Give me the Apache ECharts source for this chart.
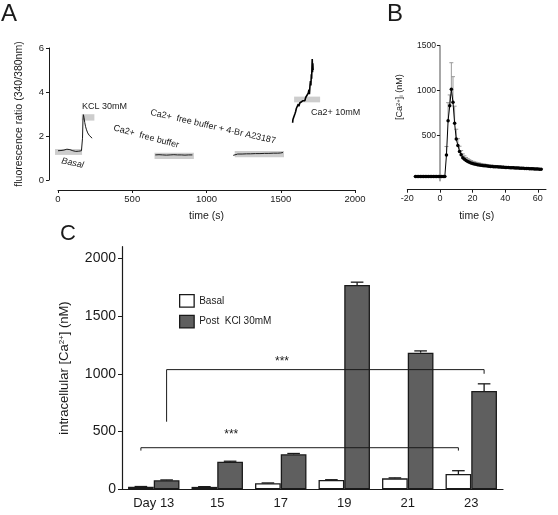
<!DOCTYPE html>
<html><head><meta charset="utf-8">
<script src="https://cdn.jsdelivr.net/npm/echarts@6/dist/echarts.min.js"></script>
<style>html,body{margin:0;padding:0;background:#fff}#c{width:558px;height:515px}</style>
</head><body><div id="c"></div>
<script>
// ---------- Panel A : fluorescence ratio trace ----------
const aXTicks = [0, 500, 1000, 1500, 2000];
const aYTicks = [0, 2, 4, 6];
const kclTime  = [0,10,20,30,40,50,60,70,80,90,100,110,120,130,140,150,158,162,165,168,171,175,180,186,192,200,210,220,230];
const kclRatio = [1.33,1.34,1.34,1.35,1.36,1.38,1.40,1.40,1.38,1.35,1.33,1.31,1.30,1.30,1.31,1.32,1.33,1.36,1.90,2.70,2.97,2.85,2.62,2.42,2.28,2.14,2.03,1.96,1.90];
const freeTime  = [655,680,705,730,755,780,805,830,855,880,905];
const freeRatio = [1.14,1.15,1.14,1.13,1.14,1.15,1.14,1.14,1.13,1.14,1.14];
const brTime  = [1180,1190,1210,1240,1270,1295,1300,1305,1330,1360,1390,1420,1450,1480,1500,1515];
const brRatio = [1.12,1.17,1.18,1.18,1.19,1.19,1.25,1.19,1.20,1.20,1.21,1.21,1.22,1.22,1.23,1.25];
const caTime  = [1580,1582,1588,1595,1600,1605,1612,1618,1622,1628,1635,1640,1648,1655,1662,1668,1675,1680,1685,1690,1693,1697,1700,1703,1706,1708,1710,1712,1714,1716,1718];
const caRatio = [2.60,2.75,2.80,3.00,3.10,3.25,3.30,3.45,3.35,3.50,3.55,3.45,3.60,3.65,3.60,3.75,3.80,3.70,3.95,4.10,3.90,4.30,4.50,4.30,4.80,4.60,5.10,5.50,4.90,5.30,5.00];
// grey condition boxes
const boxStart = [-20, 160, 650, 1190, 1590];
const boxEnd   = [162, 245, 915, 1522, 1765];
const boxLow   = [1.14, 2.70, 0.95, 1.03, 3.53];
const boxHigh  = [1.41, 2.99, 1.24, 1.32, 3.79];
// condition labels
const aLabels     = ['Basal', 'KCL 30mM', 'Ca2+  free buffer', 'Ca2+  free buffer + 4-Br A23187', 'Ca2+ 10mM'];
const aLabelTime  = [98, 162, 594, 1044, 1704];
const aLabelRatio = [0.77, 3.32, 1.97, 2.42, 3.05];
const aLabelAngle = [-12, 0, -15, -13, 0];
const aLabelAlign = ['center', 'left', 'center', 'center', 'left'];
const aLabelItalic = [true, false, false, false, false];

// ---------- Panel B : [Ca2+]i time course ----------
const bXTicks = [-20, 0, 20, 40, 60];
const bYTicks = [500, 1000, 1500];
const bTime = [-15,-14,-13,-12,-11,-10,-9,-8,-7,-6,-5,-4,-3,-2,-1,0,1,2,3,
  4,5,6,7,8,9,
  10,11,12,13,14,15,16,17,18,19,20,
  21,22,23,24,25,26,27,28,29,30,
  31,32,33,34,35,36,37,38,39,40,
  41,42,43,44,45,46,47,48,49,50,
  51,52,53,54,55,56,57,58,59,60,61,62];
const bConc = [47,47,46,47,47,46,47,47,47,46,47,47,47,46,47,47,47,48,48,
  285,667,833,1015,871,638,
  462,392,325,287,256,238,224,213,204,197,191,
  186,182,178,175,172,169,167,165,163,161,
  159,158,156,155,154,152,151,150,149,148,
  147,146,145,144,143,142,141,140,139,138,
  137,136,136,135,134,133,132,131,130,129,128,127];
const bErr = [0,0,0,0,0,0,0,0,0,0,0,0,0,0,0,0,0,0,0,
  95,200,120,296,285,190,
  110,75,58,48,42,38,34,31,29,27,25,
  24,23,22,21,20,19,18,17,16,15,
  15,14,14,13,13,12,12,12,11,11,
  11,10,10,10,10,9,9,9,9,9,
  8,8,8,8,8,8,8,8,8,8,8,8];

// ---------- Panel C : bar chart ----------
const days = ['Day 13', '15', '17', '19', '21', '23'];
const cYTicks = [0, 500, 1000, 1500, 2000];
const basal    = [22, 21, 52, 80, 95, 132];
const basalErr = [2, 2, 3, 3, 4, 29];
const post     = [78, 238, 303, 1768, 1183, 851];
const postErr  = [3, 5, 7, 25, 15, 62];
// significance brackets (category index, bar side -1 basal / +1 post)
const brkLeftCat  = [0, 0];
const brkLeftSide = [1, -1];
const brkRightCat = [5, 5];
const brkRightSide= [1, -1];
const brkLevel    = [1036, 360];
const brkLeftDrop = [585, 335];
const brkRightDrop= [1000, 335];
const starLabel = ['***', '***'];
const starPosX  = [2.52, 1.72];
const starPosY  = [1105, 475];

const FONT = 'Liberation Sans, Arial, Helvetica, sans-serif';
const ink = '#1a1a1a';
const HALF = 0.2025; // bar centre offset within band (barCategoryGap 19%)
const plain = v => String(v);

const chart = echarts.init(document.getElementById('c'), null, {renderer: 'canvas'});

function pairs(xs, ys) { return xs.map((x, i) => [x, ys[i]]); }

const baseText = {color: ink, fontFamily: FONT};

// B grid: x from -20 to 65; the y axis sits at t = 0
const bLeft = 407.3, bWidth = 138.7, bMin = -20, bMax = 65;
const bYAxisShift = -bMin / (bMax - bMin) * bWidth;

const option = {
  animation: false,
  backgroundColor: '#fff',
  textStyle: {fontFamily: FONT, color: ink},
  title: [
    {text: 'A', left: 1, top: 2, padding: 0, textStyle: {fontSize: 24, fontWeight: 'normal', color: ink, fontFamily: FONT}},
    {text: 'B', left: 387, top: 2, padding: 0, textStyle: {fontSize: 24, fontWeight: 'normal', color: ink, fontFamily: FONT}},
    {text: 'C', left: 60, top: 223, padding: 0, textStyle: {fontSize: 22, fontWeight: 'normal', color: ink, fontFamily: FONT}}
  ],
  legend: {
    orient: 'vertical', left: 179, top: 294, padding: 0, itemWidth: 14.5, itemHeight: 12.5, itemGap: 7, icon: 'rect',
    textStyle: {fontSize: 10, color: ink, fontFamily: FONT},
    data: [
      {name: 'Basal', itemStyle: {color: '#fff', borderColor: ink, borderWidth: 1.3}},
      {name: 'Post  KCl 30mM', itemStyle: {color: '#5f5f5f', borderColor: ink, borderWidth: 1.3}}
    ]
  },
  grid: [
    {left: 58, width: 297, top: 48, height: 132},
    {left: bLeft, width: bWidth, top: 45.7, height: 135},
    {left: 122, width: 381, top: 246.7, height: 242.6}
  ],
  xAxis: [
    {type: 'value', gridIndex: 0, min: 0, max: 2000, interval: 500, offset: 10,
     axisLine: {show: true, onZero: false, lineStyle: {color: ink, width: 1}},
     axisTick: {show: true, length: 3, lineStyle: {color: ink}},
     axisLabel: {fontSize: 9.5, margin: 4, formatter: plain, ...baseText},
     splitLine: {show: false},
     name: 'time (s)', nameLocation: 'middle', nameGap: 21, nameMoveOverlap: false,
     nameTextStyle: {fontSize: 10.5, ...baseText}},
    {type: 'value', gridIndex: 1, min: bMin, max: bMax, offset: 9,
     axisLine: {show: true, onZero: false, lineStyle: {color: ink, width: 1}},
     axisTick: {show: true, length: 3, customValues: bXTicks, lineStyle: {color: ink}},
     axisLabel: {fontSize: 9, margin: 4, customValues: bXTicks, formatter: plain, ...baseText},
     splitLine: {show: false},
     name: 'time (s)', nameLocation: 'middle', nameGap: 21, nameMoveOverlap: false,
     nameTextStyle: {fontSize: 10.5, ...baseText}},
    {type: 'category', gridIndex: 2, data: days,
     axisLine: {show: true, onZero: false, lineStyle: {color: ink, width: 1.2}},
     axisTick: {show: false},
     axisLabel: {fontSize: 13, margin: 8, ...baseText},
     splitLine: {show: false}},
    {type: 'value', gridIndex: 2, min: 0, max: 6, show: false}
  ],
  yAxis: [
    {type: 'value', gridIndex: 0, min: 0, max: 6, interval: 2, offset: 9,
     axisLine: {show: true, onZero: false, lineStyle: {color: ink, width: 1}},
     axisTick: {show: true, length: 3, lineStyle: {color: ink}},
     axisLabel: {fontSize: 9.5, margin: 5, formatter: plain, ...baseText},
     splitLine: {show: false},
     name: 'fluorescence ratio (340/380nm)', nameLocation: 'middle', nameGap: 24, nameMoveOverlap: false,
     nameTextStyle: {fontSize: 10.5, ...baseText}},
    {type: 'value', gridIndex: 1, min: 0, max: 1500, offset: -bYAxisShift,
     axisLine: {show: true, onZero: false, lineStyle: {color: '#8a8a8a', width: 1.5}},
     axisTick: {show: true, length: 3, customValues: bYTicks, lineStyle: {color: ink}},
     axisLabel: {fontSize: 8.5, margin: 4, customValues: bYTicks, formatter: plain, ...baseText},
     splitLine: {show: false},
     name: '[Ca{s|2+}]{b|i} (nM)', nameLocation: 'middle', nameGap: 36, nameMoveOverlap: false,
     nameTextStyle: {fontSize: 9, padding: [0, 0, 0, 32], ...baseText, rich: {
       s: {fontSize: 6, verticalAlign: 'top', ...baseText},
       b: {fontSize: 6, verticalAlign: 'bottom', ...baseText}}}},
    {type: 'value', gridIndex: 2, min: 0, max: 2100,
     axisLine: {show: true, onZero: false, lineStyle: {color: ink, width: 1.2}},
     axisTick: {show: true, length: 4, customValues: cYTicks, lineStyle: {color: ink}},
     axisLabel: {fontSize: 14, margin: 6, customValues: cYTicks, formatter: plain, ...baseText},
     splitLine: {show: false},
     name: 'intracellular [Ca{s|2+}] (nM)', nameLocation: 'middle', nameGap: 51, nameMoveOverlap: false,
     nameTextStyle: {fontSize: 13, ...baseText, rich: {
       s: {fontSize: 8, verticalAlign: 'top', ...baseText}}}}
  ],
  series: [
    // A: grey boxes
    {type: 'custom', xAxisIndex: 0, yAxisIndex: 0, z: 1, silent: true,
     data: boxStart.map((s, i) => [s, boxLow[i], boxEnd[i], boxHigh[i]]),
     renderItem: function (params, api) {
       const p0 = api.coord([api.value(0), api.value(3)]);
       const p1 = api.coord([api.value(2), api.value(1)]);
       return {type: 'rect', shape: {x: p0[0], y: p0[1], width: p1[0] - p0[0], height: p1[1] - p0[1]},
               style: {fill: '#cdcdcd'}};
     }},
    {type: 'line', xAxisIndex: 0, yAxisIndex: 0, z: 3, symbol: 'none', data: pairs(kclTime, kclRatio),
     lineStyle: {color: ink, width: 1}},
    {type: 'line', xAxisIndex: 0, yAxisIndex: 0, z: 3, symbol: 'none', data: pairs(freeTime, freeRatio),
     lineStyle: {color: ink, width: 1}},
    {type: 'line', xAxisIndex: 0, yAxisIndex: 0, z: 3, symbol: 'none', data: pairs(brTime, brRatio),
     lineStyle: {color: ink, width: 1}},
    {type: 'line', xAxisIndex: 0, yAxisIndex: 0, z: 3, symbol: 'none', data: pairs(caTime, caRatio),
     lineStyle: {color: '#000', width: 1.6}},
    // A: condition labels
    {type: 'custom', xAxisIndex: 0, yAxisIndex: 0, z: 4, silent: true,
     data: aLabels.map((t, i) => [aLabelTime[i], aLabelRatio[i], i]),
     renderItem: function (params, api) {
       const i = api.value(2);
       const p = api.coord([api.value(0), api.value(1)]);
       return {type: 'text', x: p[0], y: p[1], rotation: aLabelAngle[i] * Math.PI / 180,
               style: {text: aLabels[i], fill: ink, fontSize: 9, fontFamily: FONT,
                       fontStyle: aLabelItalic[i] ? 'italic' : 'normal',
                       align: aLabelAlign[i], verticalAlign: 'middle'}};
     }},
    // B: error bars
    {type: 'custom', xAxisIndex: 1, yAxisIndex: 1, z: 1, silent: true,
     data: bTime.map((t, i) => [t, bConc[i], bConc[i] + bErr[i]]),
     renderItem: function (params, api) {
       const p0 = api.coord([api.value(0), api.value(1)]);
       const p1 = api.coord([api.value(0), api.value(2)]);
       const st = {stroke: '#9a9a9a', lineWidth: 1};
       return {type: 'group', children: [
         {type: 'line', shape: {x1: p0[0], y1: p0[1], x2: p1[0], y2: p1[1]}, style: st},
         {type: 'line', shape: {x1: p1[0] - 2, y1: p1[1], x2: p1[0] + 2, y2: p1[1]}, style: st}
       ]};
     }},
    {type: 'line', xAxisIndex: 1, yAxisIndex: 1, z: 3, symbol: 'circle', symbolSize: 3.5,
     data: pairs(bTime, bConc), itemStyle: {color: '#000'}, lineStyle: {color: '#000', width: 1}},
    // C: bars
    {type: 'bar', name: 'Basal', xAxisIndex: 2, yAxisIndex: 2, data: basal, barGap: '0%', barCategoryGap: '19%',
     itemStyle: {color: '#fff', borderColor: ink, borderWidth: 1.3}},
    {type: 'bar', name: 'Post  KCl 30mM', xAxisIndex: 2, yAxisIndex: 2, data: post, barGap: '0%', barCategoryGap: '19%',
     itemStyle: {color: '#5f5f5f', borderColor: ink, borderWidth: 1.3}},
    // C: error bars
    {type: 'custom', xAxisIndex: 3, yAxisIndex: 2, z: 3, silent: true,
     data: days.map((d, i) => [i + 0.5 - HALF, basal[i], basal[i] + basalErr[i]])
       .concat(days.map((d, i) => [i + 0.5 + HALF, post[i], post[i] + postErr[i]])),
     renderItem: function (params, api) {
       const p0 = api.coord([api.value(0), api.value(1)]);
       const p1 = api.coord([api.value(0), api.value(2)]);
       const st = {stroke: ink, lineWidth: 1.3};
       return {type: 'group', children: [
         {type: 'line', shape: {x1: p0[0], y1: p0[1], x2: p1[0], y2: p1[1]}, style: st},
         {type: 'line', shape: {x1: p1[0] - 6.3, y1: p1[1], x2: p1[0] + 6.3, y2: p1[1]}, style: st}
       ]};
     }},
    // C: significance brackets
    {type: 'custom', xAxisIndex: 3, yAxisIndex: 2, z: 5, silent: true,
     data: brkLevel.map((lv, i) => [brkLeftCat[i] + 0.5 + brkLeftSide[i] * HALF, lv,
                                     brkRightCat[i] + 0.5 + brkRightSide[i] * HALF, brkLeftDrop[i], brkRightDrop[i]]),
     renderItem: function (params, api) {
       const a = api.coord([api.value(0), api.value(3)]);
       const b = api.coord([api.value(0), api.value(1)]);
       const c = api.coord([api.value(2), api.value(1)]);
       const d = api.coord([api.value(2), api.value(4)]);
       return {type: 'polyline', shape: {points: [a, b, c, d]}, style: {stroke: ink, lineWidth: 1, fill: null}};
     }},
    {type: 'custom', xAxisIndex: 3, yAxisIndex: 2, z: 5, silent: true,
     data: starLabel.map((s, i) => [starPosX[i], starPosY[i], i]),
     renderItem: function (params, api) {
       const i = api.value(2);
       const p = api.coord([api.value(0), api.value(1)]);
       return {type: 'text', x: p[0], y: p[1],
               style: {text: starLabel[i], fill: ink, fontSize: 12, fontFamily: FONT, align: 'center', verticalAlign: 'middle'}};
     }}
  ]
};
chart.setOption(option);
</script></body></html>
